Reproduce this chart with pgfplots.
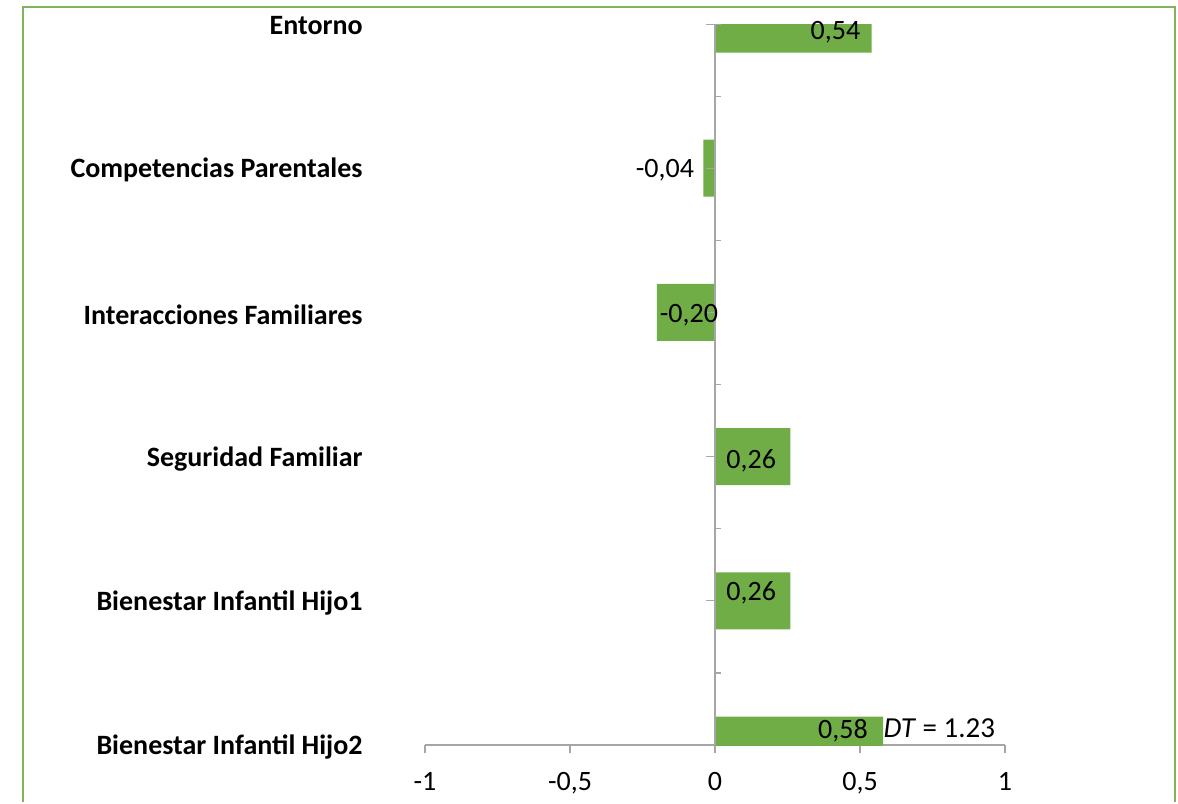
\documentclass[border=0pt]{standalone}
\usepackage{fontspec}
\setmainfont{Carlito}
\usepackage{pgfplots}
\pgfplotsset{compat=1.18}
\definecolor{barg}{HTML}{70AD47}
\definecolor{axgray}{HTML}{A6A6A6}
\definecolor{frameg}{HTML}{80B35A}

\begin{document}
\fontsize{14}{16}\selectfont
\begin{tikzpicture}
\begin{axis}[
    scale only axis,
    width=290pt, height=360.5pt,
    xmin=-1, xmax=1,
    ymin=0, ymax=5,
    enlargelimits=false,
    axis x line=bottom,
    axis y line=left,
    x axis line style={-, draw=axgray, line width=0.6pt},
    y axis line style={draw=none},
    xtick={-1,-0.5,0,0.5,1},
    xtick style={draw=axgray, line width=0.6pt},
    ytick={0,...,5},
    ytick style={draw=none},
    tick align=outside,
    major tick length=4pt,
    yticklabels={Bienestar Infantil Hijo2, Bienestar Infantil Hijo1,
                 Seguridad Familiar, Interacciones Familiares,
                 Competencias Parentales, Entorno},
    yticklabel style={font=\fontsize{14}{16}\selectfont\bfseries, inner sep=0pt, xshift=-27pt, yshift=-1pt},
    xticklabel style={font=\fontsize{14}{16}\selectfont, yshift=-5pt},
    /pgf/number format/use comma,
    /pgf/number format/assume math mode=true,
]

% barras
\addplot[
    xbar, bar width=28.5pt, fill=barg, draw=none,
    point meta=x,
    nodes near coords={\pgfmathprintnumber[fixed,fixed zerofill,precision=2]{\pgfplotspointmeta}},
    visualization depends on={value \thisrow{anc} \as \anc},
    visualization depends on={\thisrow{xs} \as \xs},
    visualization depends on={\thisrow{ys} \as \ys},
    every node near coord/.append style={anchor=\anc, inner sep=0pt,
        xshift=\xs pt, yshift=\ys pt, text=black,
        font=\fontsize{14}{16}\selectfont},
    ]
    table[x=X, y=Y]{
    Y     X  anc   xs   ys
    0  0.58  east -7.5  7
    1  0.26  east -7    4
    2  0.26  east -7   -2
    3 -0.20  west  1.2 -1.5
    4 -0.04  east -4.5 -1
    5  0.54  east -5.5 -4
    };

% eje vertical en x = 0
\draw[axgray, line width=0.6pt] (axis cs:0,0) -- (axis cs:0,5);
\pgfplotsinvokeforeach{0,1,2,3,4,5}{
  \draw[axgray, line width=0.6pt] (axis cs:0,#1) -- (axis cs:-0.031,#1);
}
\pgfplotsinvokeforeach{0.5,1.5,2.5,3.5,4.5,5}{
  \draw[axgray, line width=0.6pt] (axis cs:0,#1) -- (axis cs:0.021,#1);
}

\node[anchor=base west, inner sep=0pt, yshift=4pt, font=\fontsize{14.5}{17}\selectfont]
  at (axis cs:0.58,0) {\textit{DT} = 1.23};

\coordinate (O) at (rel axis cs:0,0);
\end{axis}

\path[use as bounding box] ([shift={(-212.5pt,-28.5pt)}]O) rectangle ([shift={(376.5pt,372.5pt)}]O);
\draw[frameg, line width=1.1pt]
  ([shift={(-201pt,-28.5pt)}]O) -- ([shift={(-201pt,369pt)}]O)
  -- ([shift={(375pt,369pt)}]O) -- ([shift={(375pt,-28.5pt)}]O);
\end{tikzpicture}
\end{document}
